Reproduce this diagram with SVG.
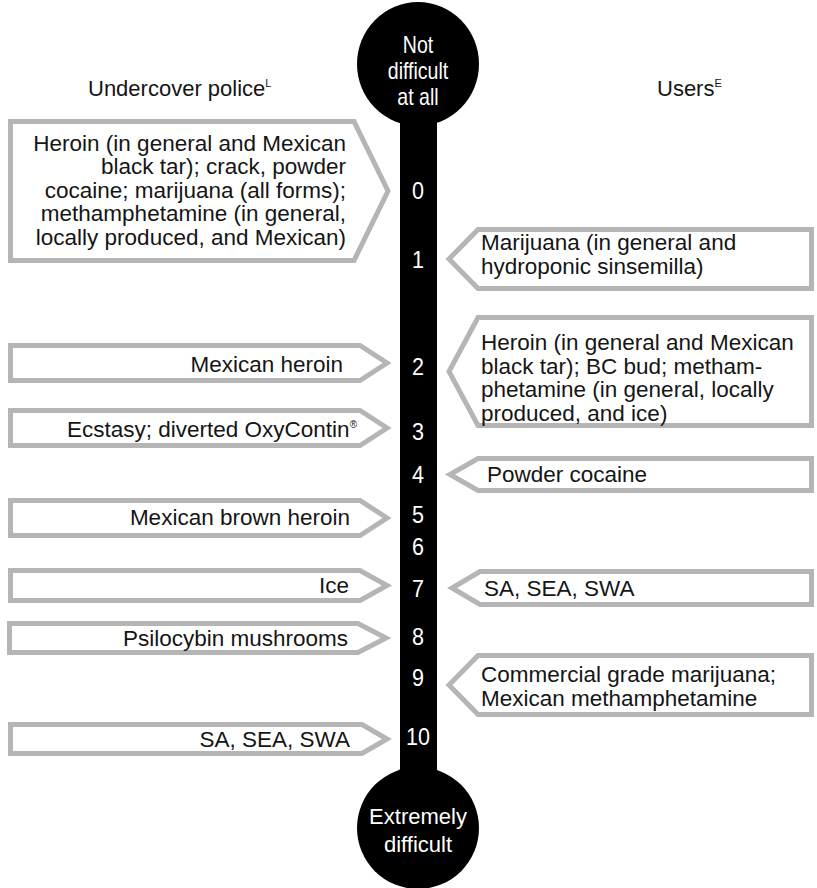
<svg xmlns="http://www.w3.org/2000/svg" width="817" height="888" viewBox="0 0 817 888">
<style>
.box{fill:#fff;stroke:#b5b5b5;stroke-width:5;stroke-linejoin:miter}
.t{font-family:"Liberation Sans",Arial,sans-serif;font-size:22.5px;fill:#151515}
.l{text-anchor:end}
.hd{font-family:"Liberation Sans",Arial,sans-serif;font-size:22px;fill:#151515}
.sup{font-size:11px}
.w{font-family:"Liberation Sans",Arial,sans-serif;fill:#fff;text-anchor:middle}
.num{font-size:24.5px}
.cap{font-size:23px}
</style>
<rect width="817" height="888" fill="#fff"/>
<g id="headers">
<text class="hd" x="88" y="96">Undercover police<tspan class="sup" dy="-9">L</tspan></text>
<text class="hd" x="657" y="96">Users<tspan class="sup" dy="-9">E</tspan></text>
</g>
<g id="scale">
<rect x="400" y="100" width="37" height="700" fill="#000"/>
<ellipse cx="418" cy="64" rx="61" ry="62" fill="#000"/>
<circle cx="418" cy="828" r="61" fill="#000"/>
<g transform="translate(418,0) scale(0.85,1)">
<text class="w cap" x="0" y="53">Not</text>
<text class="w cap" x="0" y="79">difficult</text>
<text class="w cap" x="0" y="105">at all</text>
</g>
<text class="w" font-size="22" x="418" y="824">Extremely</text>
<text class="w" font-size="22" x="418" y="852">difficult</text>
<g transform="translate(418,0) scale(0.88,1)">
<text class="w num" x="0" y="199">0</text>
<text class="w num" x="0" y="268">1</text>
<text class="w num" x="0" y="375">2</text>
<text class="w num" x="0" y="440">3</text>
<text class="w num" x="0" y="483">4</text>
<text class="w num" x="0" y="523">5</text>
<text class="w num" x="0" y="555">6</text>
<text class="w num" x="0" y="597">7</text>
<text class="w num" x="0" y="645">8</text>
<text class="w num" x="0" y="686">9</text>
<text class="w num" x="0" y="745">10</text>
</g>
</g>
<g id="police-0">
<path class="box" d="M10.5,121.5 H354 L388,191 L354,260.5 H10.5 Z"/>
<text class="t l" x="346" y="151">Heroin (in general and Mexican</text>
<text class="t l" x="346" y="174.4">black tar); crack, powder</text>
<text class="t l" x="346" y="197.8">cocaine; marijuana (all forms);</text>
<text class="t l" x="346" y="221.2">methamphetamine (in general,</text>
<text class="t l" x="346" y="244.6">locally produced, and Mexican)</text>
</g>
<g id="police-2">
<path class="box" d="M10.5,345.5 H360 L387,363 L360,380.5 H10.5 Z"/>
<text class="t l" x="343" y="372">Mexican heroin</text>
</g>
<g id="police-3">
<path class="box" d="M10.5,410.5 H360 L387,428 L360,445.5 H10.5 Z"/>
<text class="t l" x="357" y="437">Ecstasy; diverted OxyContin<tspan font-size="10" dy="-9">®</tspan></text>
</g>
<g id="police-5">
<path class="box" d="M10.5,500.5 H360 L387,518 L360,535.5 H10.5 Z"/>
<text class="t l" x="350" y="525">Mexican brown heroin</text>
</g>
<g id="police-7">
<path class="box" d="M10.5,570.5 H360 L387,585.5 L360,600.5 H10.5 Z"/>
<text class="t l" x="349" y="593">Ice</text>
</g>
<g id="police-8">
<path class="box" d="M9.5,623.5 H358 L386,638 L358,652.5 H9.5 Z"/>
<text class="t l" x="348" y="646">Psilocybin mushrooms</text>
</g>
<g id="police-10">
<path class="box" d="M10.5,724.5 H362 L387,739 L362,753.5 H10.5 Z"/>
<text class="t l" x="350" y="747">SA, SEA, SWA</text>
</g>
<g id="users-1">
<path class="box" d="M811.5,229.5 H478 L449,259 L478,288.5 H811.5 Z"/>
<text class="t" x="481" y="250">Marijuana (in general and</text>
<text class="t" x="481" y="274">hydroponic sinsemilla)</text>
</g>
<g id="users-2">
<path class="box" d="M811.5,317.5 H478 L449,371.5 L478,425.5 H811.5 Z"/>
<text class="t" x="481" y="350">Heroin (in general and Mexican</text>
<text class="t" x="481" y="373.5">black tar); BC bud; metham-</text>
<text class="t" x="481" y="397">phetamine (in general, locally</text>
<text class="t" x="481" y="420.5">produced, and ice)</text>
</g>
<g id="users-4">
<path class="box" d="M811.5,458.5 H478 L450,474.5 L478,490.5 H811.5 Z"/>
<text class="t" x="487" y="482">Powder cocaine</text>
</g>
<g id="users-7">
<path class="box" d="M811.5,571.5 H480 L452,588 L480,604.5 H811.5 Z"/>
<text class="t" x="484" y="596">SA, SEA, SWA</text>
</g>
<g id="users-9">
<path class="box" d="M811.5,655.5 H478 L449,685 L478,714.5 H811.5 Z"/>
<text class="t" x="481" y="682">Commercial grade marijuana;</text>
<text class="t" x="481" y="706">Mexican methamphetamine</text>
</g>
</svg>
